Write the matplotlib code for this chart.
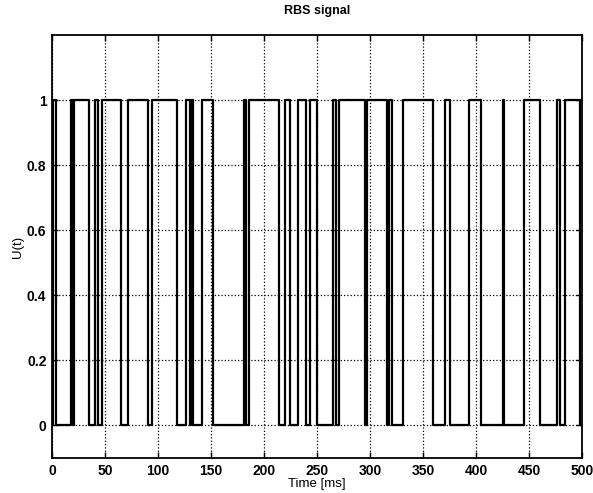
import matplotlib
matplotlib.use("Agg")
import matplotlib.pyplot as plt
import numpy as np

# Transition times [ms] and the value the signal takes from that time on
switch_times = [0, 1, 3.5, 18.2, 19.5, 21, 34.5, 40.3, 43.5, 47, 65.5, 71.5,
                90.5, 94.5, 117.5, 126, 130, 131, 133, 141.5, 152, 181, 183,
                185.5, 214.5, 220, 224.5, 232, 239.5, 243.5, 250.3, 265, 268,
                270.5, 294.8, 296.8, 316, 318, 321, 331, 359.5, 370.5, 375.5,
                393, 404.5, 425, 426.5, 445, 460.5, 476.5, 479, 483.5, 498, 500]
switch_values = [0, 1, 0, 1, 0, 1, 0, 1, 0, 1, 0, 1,
                 0, 1, 0, 1, 0, 1, 0, 1, 0, 1, 0,
                 1, 0, 1, 0, 1, 0, 1, 0, 1, 0,
                 1, 0, 1, 0, 1, 0, 1, 0, 1, 0,
                 1, 0, 1, 0, 1, 0, 1, 0, 1, 0, 0]

x_ticks = [0, 50, 100, 150, 200, 250, 300, 350, 400, 450, 500]
y_ticks = [0, 0.2, 0.4, 0.6, 0.8, 1.0]
y_tick_labels = ["0", "0.2", "0.4", "0.6", "0.8", "1"]

plt.rcParams['font.family'] = ['Liberation Sans', 'DejaVu Sans']

fig = plt.figure(figsize=(5.93, 4.93), dpi=100)
ax = fig.add_axes([0.0877, 0.071, 0.8938, 0.858])

ax.step(switch_times, switch_values, where='post', color='black', linewidth=1.6)

ax.set_xlim(0, 500)
ax.set_ylim(-0.1, 1.2)
ax.set_xticks(x_ticks)
ax.set_xticklabels([str(v) for v in x_ticks], fontsize=10, fontweight='bold')
ax.set_yticks(y_ticks)
ax.set_yticklabels(y_tick_labels, fontsize=10, fontweight='bold')
ax.tick_params(direction='in', top=True, right=True, length=4, width=1, pad=4)
ax.grid(True, linestyle=':', color='black', linewidth=0.9)

for s in ax.spines.values():
    s.set_linewidth(1.3)

ax.set_title("RBS signal", fontsize=9, fontweight='bold', pad=15)
ax.set_xlabel("Time [ms]", fontsize=9.5, labelpad=0)
ax.set_ylabel("U(t)", fontsize=9.5, labelpad=2)

fig.savefig("out.png", dpi=100)
